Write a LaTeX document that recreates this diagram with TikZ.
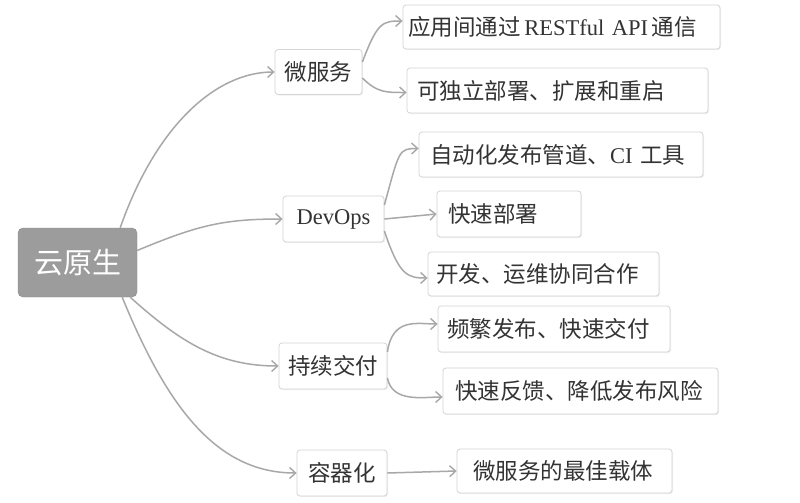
\documentclass[tikz,border=0pt]{standalone}
\usepackage{fontspec}
\setmainfont{Liberation Serif}
\newfontfamily\cjk{Noto Sans CJK SC}
\usetikzlibrary{arrows.meta,shadows}
\definecolor{linegray}{HTML}{A8A8A8}
\definecolor{boxline}{HTML}{D4D4D4}
\definecolor{rootfill}{HTML}{9C9C9C}
\definecolor{txt}{HTML}{333333}
\tikzset{
  box/.style={draw=boxline, line width=0.8pt, rounded corners=3pt, fill=white,
    text=txt, inner xsep=0pt, inner ysep=0pt, align=left,
    drop shadow={opacity=0.12, shadow xshift=1pt, shadow yshift=-1pt},
    font=\fontsize{22.5}{25}\selectfont},
  mid/.style={box, align=center},
  sz/.style n args={3}{minimum width=#1pt, minimum height=#2pt, text width=#3pt},
  rootbox/.style={draw=rootfill!90!black, fill=rootfill, rounded corners=5pt, text=white,
    font=\cjk\fontsize{29}{32}\selectfont, minimum width=119pt, minimum height=69pt},
  conn/.style={draw=linegray, line width=1.5pt, -{Straight Barb[length=6pt,width=11pt,line width=1.4pt]}}
}
\begin{document}
\begin{tikzpicture}[x=1pt,y=-1pt]
\useasboundingbox (0,0) rectangle (800,503);
\fill[white] (0,0) rectangle (800,503);

\node[rootbox] (root) at (77.5,262.5) {云原生};

\node[mid, minimum width=87pt, minimum height=45pt] (ms) at (318.5,72) {\cjk 微服务};
\node[box, sz={317}{44}{307}] (c1) at (561.5,27) {\mbox{{\cjk 应用间通过}\,RESTful API\,{\cjk 通信}}};
\node[box, sz={301}{45}{281}] (c2) at (557.5,90.5) {\cjk 可独立部署、扩展和重启};

\node[mid, minimum width=101pt, minimum height=46pt] (dev) at (333.5,219) {DevOps};
\node[box, sz={284}{45}{262}] (d1) at (561,154.5) {{\cjk 自动化发布管道、}CI {\cjk 工具}};
\node[box, sz={144}{46}{122}] (d2) at (509,214) {\cjk 快速部署};
\node[box, sz={231}{44}{215}] (d3) at (543.5,274) {\cjk 开发、运维协同合作};

\node[mid, minimum width=108pt, minimum height=46pt] (cd) at (333,366) {\cjk 持续交付};
\node[box, sz={232}{46}{214}] (p1) at (554,329) {\cjk 频繁发布、快速交付};
\node[box, sz={275}{46}{251}] (p2) at (580.5,391) {\cjk 快速反馈、降低发布风险};

\node[mid, minimum width=90pt, minimum height=46pt] (ct) at (342,473) {\cjk 容器化};
\node[box, sz={215}{44}{183}] (k1) at (564.5,471) {\cjk 微服务的最佳载体};

% root connectors
\draw[conn] ([xshift=-17pt]root.north east) .. controls +(35,-100) and +(-60,0) .. (ms.west);
\draw[conn] ([yshift=12pt]root.east) .. controls +(60,-25) and +(-60,0) .. (dev.west);
\draw[conn] ([xshift=-7pt]root.south east) .. controls +(50,45) and +(-60,0) .. (cd.west);
\draw[conn] ([xshift=-15pt]root.south east) .. controls +(45,110) and +(-80,0) .. (ct.west);

% children
\draw[conn] ([yshift=10pt]ms.east) .. controls +(15,-40) and +(-20,0) .. ([yshift=6pt]c1.west);
\draw[conn] ([yshift=-6pt]ms.east) .. controls +(15,15) and +(-20,0) .. ([yshift=-2pt]c2.west);

\draw[conn] ([yshift=14pt]dev.east) .. controls +(15,-55) and +(-20,0) .. ([yshift=6pt]d1.west);
\draw[conn] (dev.east) -- (d2.west);
\draw[conn] ([yshift=-12pt]dev.east) .. controls +(15,45) and +(-20,0) .. ([yshift=-4pt]d3.west);

\draw[conn] ([yshift=14pt]cd.east) .. controls +(5,-35) and +(-20,0) .. ([yshift=5pt]p1.west);
\draw[conn] ([yshift=-12pt]cd.east) .. controls +(5,25) and +(-20,0) .. ([yshift=-6pt]p2.west);

\draw[conn] (ct.east) -- (k1.west);
\end{tikzpicture}
\end{document}
